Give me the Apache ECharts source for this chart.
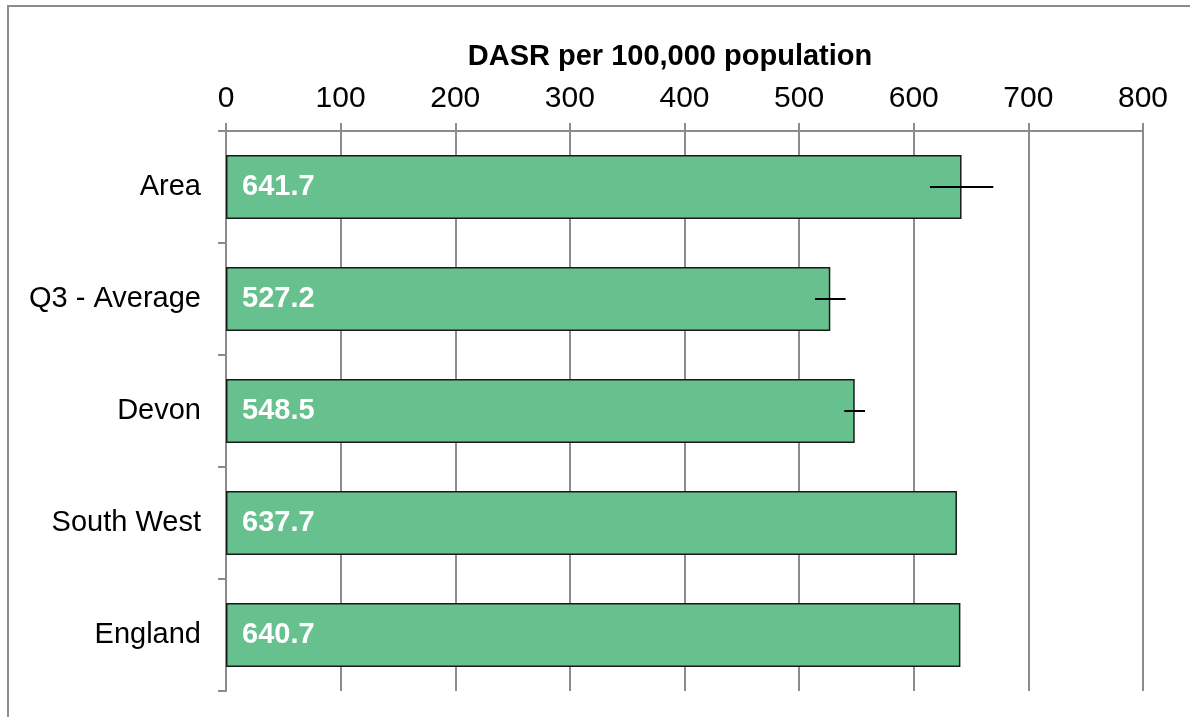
<!DOCTYPE html>
<html>
<head>
<meta charset="utf-8">
<script src="https://cdn.jsdelivr.net/npm/echarts@6/dist/echarts.min.js"></script>
<style>
html,body{margin:0;padding:0;background:#fff;}
#chart{width:1190px;height:717px;}
</style>
</head>
<body>
<div id="chart"></div>
<script>
const categories = ['Area', 'Q3 - Average', 'Devon', 'South West', 'England'];
const values = [641.7, 527.2, 548.5, 637.7, 640.7];
const ciLower = [614.2, 513.9, 539.4, null, null];
const ciUpper = [669.4, 540.6, 557.5, null, null];
const axisTitle = 'DASR per 100,000 population';

const errData = categories.map((c, i) => [i, ciLower[i], ciUpper[i]]).filter(d => d[1] != null);

const chart = echarts.init(document.getElementById('chart'), null, {renderer: 'canvas'});
const FONT = 'Liberation Sans, Arial, sans-serif';
chart.setOption({
  animation: false,
  backgroundColor: '#fff',
  graphic: [{
    type: 'rect', silent: true, z: -1,
    shape: {x: 8, y: 6, width: 1400, height: 900},
    style: {fill: 'none', stroke: '#8c8c8c', lineWidth: 2}
  }],
  grid: {left: 226, right: 47, top: 131, bottom: 26, containLabel: false},
  xAxis: {
    type: 'value', position: 'top', min: 0, max: 800, interval: 100,
    name: axisTitle, nameLocation: 'middle', nameGap: 60,
    nameTextStyle: {fontFamily: FONT, fontSize: 29, fontWeight: 'bold', color: '#000', padding: [0, 29, 0, 0]},
    axisLine: {show: true, lineStyle: {color: '#8c8c8c', width: 2}},
    axisTick: {show: true, length: 8, lineStyle: {color: '#8c8c8c', width: 2}},
    axisLabel: {fontFamily: FONT, fontSize: 30, color: '#000', margin: 17},
    splitLine: {show: true, lineStyle: {color: '#8c8c8c', width: 2}}
  },
  yAxis: {
    type: 'category', data: categories, inverse: true,
    axisLine: {show: true, lineStyle: {color: '#8c8c8c', width: 2}},
    axisTick: {show: true, length: 8, lineStyle: {color: '#8c8c8c', width: 2}},
    axisLabel: {fontFamily: FONT, fontSize: 29, color: '#000', margin: 25},
    splitLine: {show: false}
  },
  series: [{
    type: 'bar', data: values, barWidth: '57%',
    itemStyle: {color: '#66c18e', borderColor: '#1a1a1a', borderWidth: 1.5},
    label: {
      show: true, position: 'insideLeft', distance: 16,
      fontFamily: FONT, fontSize: 29, fontWeight: 'bold', color: '#fff',
      formatter: p => p.value.toFixed(1)
    }
  }, {
    type: 'custom', data: errData, z: 5,
    renderItem: (params, api) => {
      const y = api.value(0);
      const p1 = api.coord([api.value(1), y]);
      const p2 = api.coord([api.value(2), y]);
      return {
        type: 'line',
        shape: {x1: p1[0], y1: p1[1], x2: p2[0], y2: p2[1]},
        style: {stroke: '#000', lineWidth: 2}
      };
    },
    encode: {x: [1, 2], y: 0}
  }]
});
</script>
</body>
</html>
